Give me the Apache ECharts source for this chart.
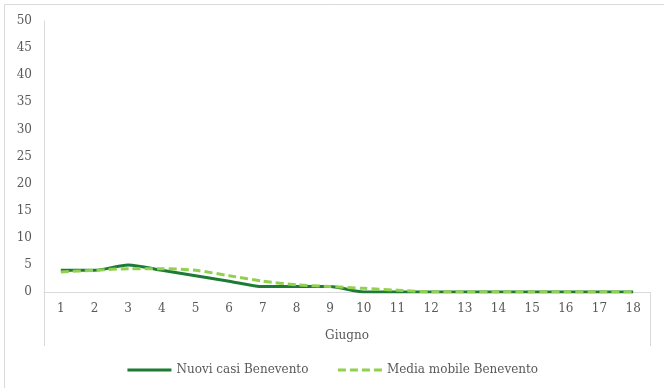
<!DOCTYPE html>
<html><head><meta charset="utf-8">
<script src="https://cdn.jsdelivr.net/npm/echarts@6/dist/echarts.min.js"></script>
<style>html,body{margin:0;padding:0;background:#fff}#c{width:664px;height:388px}</style>
</head><body><div id="c"></div>
<script>
const days = ['1','2','3','4','5','6','7','8','9','10','11','12','13','14','15','16','17','18'];
const nuoviCasi = [4,4,5,4,3,2,1,1,1,0,0,0,0,0,0,0,0,0];
const mediaMobile = [3.7,4,4.3,4.3,4,3,2,1.33,1,0.67,0.33,0,0,0,0,0,0,0];
const yTicks = {min:0, max:50, interval:5};

const txt = '#595959';
const serif = '"DejaVu Serif", "Liberation Serif", serif';
const chart = echarts.init(document.getElementById('c'));
chart.setOption({
  animation:false,
  backgroundColor:'#fff',
  graphic:[{type:'rect',shape:{x:4.5,y:4.5,width:700,height:400},style:{fill:'none',stroke:'#d9d9d9',lineWidth:1},silent:true}],
  grid:{left:44,right:14,top:21,bottom:96,containLabel:false},
  legend:{bottom:7,left:'center',itemWidth:44,itemHeight:10,itemGap:28,
    itemStyle:{opacity:0},
    lineStyle:{width:3},
    textStyle:{color:txt,fontFamily:serif,fontSize:12,padding:[0,0,0,0]},
    data:['Nuovi casi Benevento','Media mobile Benevento']},
  xAxis:{type:'category',data:days,boundaryGap:true,
    name:'Giugno',nameLocation:'middle',nameGap:38,
    nameTextStyle:{color:txt,fontFamily:serif,fontSize:12},
    axisLine:{show:true,lineStyle:{color:'#d9d9d9',width:1}},
    axisTick:{show:true,length:54,interval:function(i){return i===0;},lineStyle:{color:'#d9d9d9'}},
    axisLabel:{color:txt,fontFamily:serif,fontSize:12,margin:11,interval:0},
    splitLine:{show:false}},
  yAxis:{type:'value',min:yTicks.min,max:yTicks.max,interval:yTicks.interval,
    axisLine:{show:true,lineStyle:{color:'#d9d9d9',width:1}},
    axisTick:{show:false},
    axisLabel:{color:txt,fontFamily:serif,fontSize:12,margin:12},
    splitLine:{show:false}},
  series:[
    {name:'Nuovi casi Benevento',type:'line',data:nuoviCasi,symbol:'none',showSymbol:false,smooth:0.25,
      lineStyle:{color:'#1e7b34',width:3},itemStyle:{color:'#1e7b34'}},
    {name:'Media mobile Benevento',type:'line',data:mediaMobile,symbol:'none',showSymbol:false,smooth:0.25,
      lineStyle:{color:'#92d050',width:3,type:[8,4]},itemStyle:{color:'#92d050'}}
  ]
});
</script></body></html>
